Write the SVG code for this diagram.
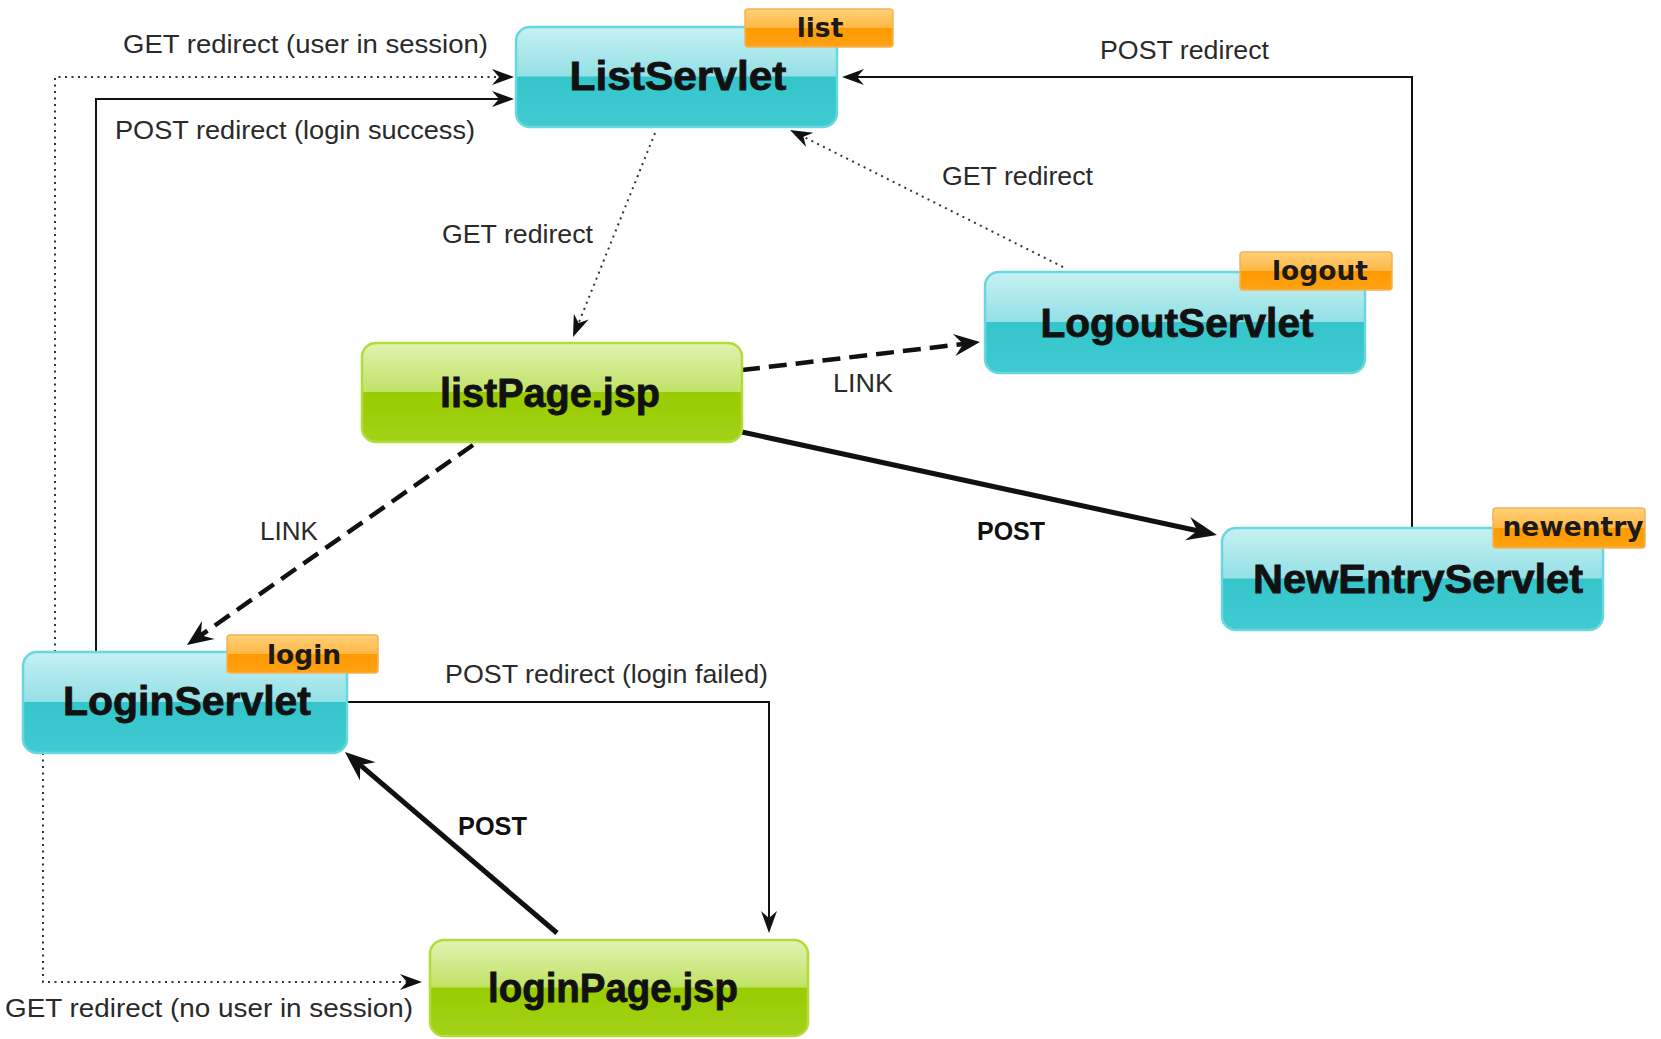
<svg xmlns="http://www.w3.org/2000/svg" width="1661" height="1039" viewBox="0 0 1661 1039">
<style>
.node-t{fill:url(#gTeal);stroke:#6ad7dd;stroke-width:2.5}
.node-g{fill:url(#gGreen);stroke:#b3dc3a;stroke-width:2.5}
.badge{fill:url(#gOrange);stroke:#f3b456;stroke-width:1.5}
.nl{font-family:"Liberation Sans",Arial,sans-serif;font-weight:bold;font-size:40px;fill:#111;stroke:#111;stroke-width:0.8;text-anchor:middle}
.bl{font-family:"DejaVu Sans",sans-serif;font-weight:bold;font-size:26.5px;fill:#1a1a1a;text-anchor:middle}
.el{font-family:"Liberation Sans",Arial,sans-serif;font-size:25px;fill:#2a2a2a}
.eb{font-family:"Liberation Sans",Arial,sans-serif;font-weight:bold;font-size:25px;fill:#111}
.thin{fill:none;stroke:#111;stroke-width:2}
.dot{fill:none;stroke:#333;stroke-width:2;stroke-dasharray:2 4.5}
.dash{fill:none;stroke:#111;stroke-width:4.5;stroke-dasharray:18 9}
.thick{fill:none;stroke:#111;stroke-width:5}
</style>
<defs>
<linearGradient id="gTeal" x1="0" y1="0" x2="0" y2="1">
<stop offset="0" stop-color="#c6f1f3"/>
<stop offset="0.49" stop-color="#94e0e5"/>
<stop offset="0.5" stop-color="#34c5cb"/>
<stop offset="1" stop-color="#3fcbd1"/>
</linearGradient>
<linearGradient id="gGreen" x1="0" y1="0" x2="0" y2="1">
<stop offset="0" stop-color="#e2f3b2"/>
<stop offset="0.49" stop-color="#c0e266"/>
<stop offset="0.5" stop-color="#99cc00"/>
<stop offset="1" stop-color="#a2d218"/>
</linearGradient>
<linearGradient id="gOrange" x1="0" y1="0" x2="0" y2="1">
<stop offset="0" stop-color="#ffd07a"/>
<stop offset="0.49" stop-color="#ffb845"/>
<stop offset="0.5" stop-color="#ff9900"/>
<stop offset="1" stop-color="#ffa214"/>
</linearGradient>
<marker id="aThin" markerUnits="userSpaceOnUse" markerWidth="40" markerHeight="40" viewBox="-20 -20 40 40" refX="0" refY="0" orient="auto">
<path d="M8,0 L-14,-8 L-7,0 L-14,8 Z" fill="#111"/>
</marker>
<marker id="aDash" markerUnits="userSpaceOnUse" markerWidth="50" markerHeight="50" viewBox="-25 -25 50 50" refX="0" refY="0" orient="auto">
<path d="M12,0 L-14,-11 L-5,0 L-14,11 Z" fill="#111"/>
</marker>
<marker id="aThick" markerUnits="userSpaceOnUse" markerWidth="50" markerHeight="50" viewBox="-25 -25 50 50" refX="0" refY="0" orient="auto">
<path d="M14,0 L-16,-12 L-6,0 L-16,12 Z" fill="#111"/>
</marker>
</defs>
<rect width="1661" height="1039" fill="#ffffff"/>

<g id="connectors">
<path class="dot" d="M55,652 V77 H506" marker-end="url(#aThin)"/>
<path class="thin" d="M96,652 V99 H506" marker-end="url(#aThin)"/>
<path class="thin" d="M1412,528 V77 H850" marker-end="url(#aThin)"/>
<path class="dot" d="M655,133 L576,329.6" marker-end="url(#aThin)"/>
<path class="dot" d="M1063,267 L797.2,133.6" marker-end="url(#aThin)"/>
<path class="dash" d="M742,370 L968.1,343.4" marker-end="url(#aDash)"/>
<path class="dash" d="M473,445 L196.8,638.1" marker-end="url(#aDash)"/>
<path class="thick" d="M742,432 L1203.3,532" marker-end="url(#aThick)"/>
<path class="thin" d="M348,702 H769 V925" marker-end="url(#aThin)"/>
<path class="thick" d="M557,933 L355.6,761.1" marker-end="url(#aThick)"/>
<path class="dot" d="M43,753 V982 H414" marker-end="url(#aThin)"/>

<text class="el" x="123" y="53" textLength="365" lengthAdjust="spacingAndGlyphs">GET redirect (user in session)</text>
<text class="el" x="115" y="139" textLength="360" lengthAdjust="spacingAndGlyphs">POST redirect (login success)</text>
<text class="el" x="1100" y="59" textLength="169" lengthAdjust="spacingAndGlyphs">POST redirect</text>
<text class="el" x="442" y="243" textLength="151" lengthAdjust="spacingAndGlyphs">GET redirect</text>
<text class="el" x="942" y="185" textLength="151" lengthAdjust="spacingAndGlyphs">GET redirect</text>
<text class="el" x="833" y="392" textLength="60" lengthAdjust="spacingAndGlyphs">LINK</text>
<text class="el" x="260" y="540" textLength="58" lengthAdjust="spacingAndGlyphs">LINK</text>
<text class="eb" x="977" y="540" textLength="68" lengthAdjust="spacingAndGlyphs">POST</text>
<text class="el" x="445" y="683" textLength="323" lengthAdjust="spacingAndGlyphs">POST redirect (login failed)</text>
<text class="eb" x="458" y="835" textLength="69" lengthAdjust="spacingAndGlyphs">POST</text>
<text class="el" x="5" y="1017" textLength="408" lengthAdjust="spacingAndGlyphs">GET redirect (no user in session)</text>
</g>

<g id="ListServlet">
<rect class="node-t" x="516" y="27" width="321" height="100" rx="14"/>
<text class="nl" x="678" y="90" textLength="217" lengthAdjust="spacingAndGlyphs">ListServlet</text>
<rect class="badge" x="745" y="9" width="148" height="38" rx="3"/>
<text class="bl" x="820" y="37">list</text>
</g>

<g id="LogoutServlet">
<rect class="node-t" x="985" y="272" width="380" height="101" rx="14"/>
<text class="nl" x="1177" y="337" textLength="273" lengthAdjust="spacingAndGlyphs">LogoutServlet</text>
<rect class="badge" x="1240" y="252" width="152" height="38" rx="3"/>
<text class="bl" x="1320" y="280">logout</text>
</g>

<g id="listPage">
<rect class="node-g" x="362" y="343" width="380" height="99" rx="14"/>
<text class="nl" x="550" y="407" textLength="220" lengthAdjust="spacingAndGlyphs">listPage.jsp</text>
</g>

<g id="NewEntryServlet">
<rect class="node-t" x="1222" y="528" width="381" height="102" rx="14"/>
<text class="nl" x="1418" y="593" textLength="330" lengthAdjust="spacingAndGlyphs">NewEntryServlet</text>
<rect class="badge" x="1493" y="508" width="152" height="40" rx="3"/>
<text class="bl" x="1573" y="536">newentry</text>
</g>

<g id="LoginServlet">
<rect class="node-t" x="23" y="652" width="324" height="101" rx="14"/>
<text class="nl" x="187" y="715" textLength="248" lengthAdjust="spacingAndGlyphs">LoginServlet</text>
<rect class="badge" x="227" y="635" width="151" height="38" rx="3"/>
<text class="bl" x="304" y="664">login</text>
</g>

<g id="loginPage">
<rect class="node-g" x="430" y="940" width="378" height="96" rx="14"/>
<text class="nl" x="613" y="1002" textLength="250" lengthAdjust="spacingAndGlyphs">loginPage.jsp</text>
</g>
</svg>
